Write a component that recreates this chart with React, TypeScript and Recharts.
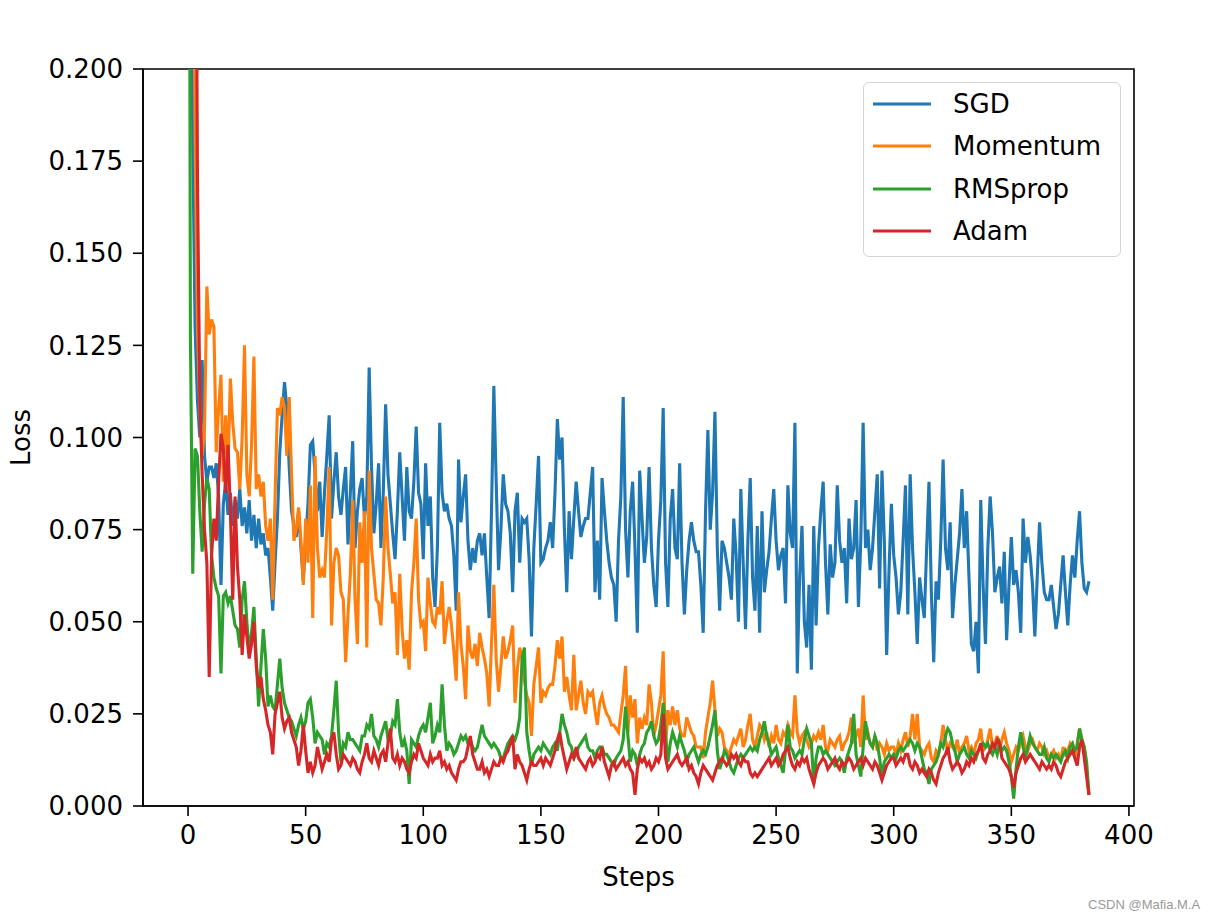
import { Label, Legend, Line, LineChart, ReferenceArea, XAxis, YAxis } from "recharts"

const seriesKeys = ["sgd", "momentum", "rmsprop", "adam"]
const seriesNames = ["SGD", "Momentum", "RMSprop", "Adam"]
const seriesColors = ["#1f77b4", "#ff7f0e", "#2ca02c", "#d62728"]

const xTicks = [0, 50, 100, 150, 200, 250, 300, 350, 400]
const yTicks = [0, 0.025, 0.05, 0.075, 0.1, 0.125, 0.15, 0.175, 0.2]

// loss per step, in units of 0.001 (steps 0..383)
const sgdLoss = [
  450, 280, 180, 130, 110, 100, 121, 95, 88, 92,
  92, 89, 93, 84, 60, 82, 88, 79, 85, 76,
  83, 78, 86, 76, 81, 74, 83, 72, 79, 70,
  78, 71, 74, 68, 70, 62, 53, 66, 78, 96,
  106, 115, 108, 92, 80, 76, 73, 80, 70, 61,
  72, 82, 98, 99, 90, 80, 88, 73, 85, 95,
  106, 78, 88, 96, 84, 79, 86, 92, 71, 85,
  99, 70, 80, 86, 89, 78, 84, 119, 92, 74,
  82, 93, 70, 85, 109, 90, 82, 74, 67, 80,
  96, 84, 72, 92, 80, 78, 88, 103, 85, 82,
  67, 93, 76, 84, 62, 54, 70, 104, 85, 80,
  82, 78, 76, 68, 53, 94, 77, 84, 90, 72,
  64, 70, 66, 72, 74, 68, 74, 62, 51, 80,
  114, 88, 64, 75, 90, 82, 80, 74, 58, 80,
  85, 66, 78, 77, 78, 67, 46, 70, 82, 95,
  66, 67, 70, 72, 77, 70, 85, 105, 94, 100,
  75, 58, 80, 67, 78, 88, 80, 73, 76, 78,
  78, 85, 92, 58, 72, 56, 89, 80, 72, 66,
  62, 60, 50, 72, 84, 111, 75, 62, 80, 88,
  70, 47, 91, 78, 66, 73, 92, 70, 60, 54,
  72, 83, 108, 66, 54, 78, 86, 70, 67, 93,
  66, 52, 64, 72, 77, 72, 69, 69, 60, 47,
  80, 102, 75, 85, 107, 70, 53, 72, 70, 66,
  62, 56, 78, 68, 50, 86, 66, 48, 72, 89,
  62, 53, 76, 47, 80, 58, 64, 69, 78, 86,
  72, 64, 68, 70, 55, 87, 74, 70, 104, 36,
  62, 76, 50, 43, 60, 37, 76, 49, 70, 80,
  88, 66, 52, 71, 62, 66, 87, 72, 66, 70,
  55, 78, 67, 70, 83, 54, 72, 104, 70, 75,
  64, 70, 80, 90, 59, 91, 72, 41, 64, 82,
  68, 62, 52, 58, 72, 87, 52, 90, 70, 58,
  44, 62, 56, 51, 70, 88, 58, 39, 61, 56,
  72, 94, 70, 64, 77, 51, 60, 67, 74, 86,
  70, 80, 62, 44, 42, 50, 36, 83, 60, 44,
  70, 84, 74, 58, 62, 65, 55, 69, 45, 60,
  73, 60, 64, 58, 47, 78, 66, 73, 68, 60,
  46, 62, 77, 66, 58, 56, 56, 60, 54, 48,
  52, 60, 68, 58, 49, 60, 68, 62, 72, 80,
  66, 59, 58, 61,
]

const momentumLoss = [
  900, 420, 260, 181, 130, 108, 95, 102, 141, 128,
  132, 130, 96, 108, 117, 88, 106, 92, 116, 104,
  97, 96, 86, 100, 125, 90, 84, 98, 122, 86,
  90, 84, 88, 76, 72, 78, 56, 84, 108, 106,
  111, 108, 95, 111, 90, 72, 75, 81, 72, 60,
  78, 66, 87, 51, 95, 70, 62, 64, 62, 75,
  92, 49, 66, 70, 68, 58, 56, 39, 52, 63,
  83, 56, 44, 77, 66, 80, 43, 91, 70, 63,
  56, 55, 49, 62, 84, 70, 63, 55, 58, 41,
  63, 48, 40, 45, 37, 58, 66, 78, 56, 49,
  50, 42, 62, 55, 50, 49, 54, 52, 61, 44,
  50, 54, 49, 42, 34, 58, 44, 38, 29, 49,
  42, 40, 44, 38, 47, 43, 40, 36, 27, 44,
  60, 40, 31, 38, 46, 40, 42, 45, 49, 28,
  37, 43, 40, 34, 30, 28, 19, 33, 38, 43,
  28, 31, 30, 32, 33, 33, 38, 45, 40, 46,
  31, 35, 30, 26, 41, 26, 30, 34, 28, 25,
  31, 30, 31, 26, 22, 28, 30, 27, 25, 24,
  22, 22, 21, 20, 25, 30, 38, 20, 30, 24,
  29, 17, 24, 21, 24, 22, 33, 28, 19, 22,
  26, 30, 42, 16, 26, 22, 27, 22, 26, 21,
  19, 19, 24, 22, 20, 19, 16, 16, 16, 13,
  20, 24, 28, 34, 26, 19, 21, 20, 16, 15,
  14, 16, 18, 17, 19, 21, 16, 18, 22, 25,
  18, 16, 19, 22, 21, 18, 20, 16, 19, 17,
  22, 18, 17, 20, 19, 22, 20, 19, 30, 20,
  17, 19, 20, 18, 16, 17, 19, 18, 20, 18,
  22, 16, 15, 18, 17, 16, 18, 19, 15, 17,
  18, 20, 24, 17, 19, 21, 16, 30, 18, 20,
  17, 16, 19, 15, 17, 16, 14, 17, 15, 16,
  16, 14, 17, 15, 18, 20, 16, 19, 25, 18,
  25, 16, 15, 14, 16, 17, 13, 12, 15, 14,
  17, 22, 18, 15, 17, 16, 15, 18, 14, 16,
  17, 19, 15, 16, 14, 17, 18, 21, 15, 16,
  18, 21, 16, 17, 19, 15, 18, 20, 17, 15,
  12, 14, 16, 15, 17, 19, 16, 15, 17, 18,
  16, 15, 17, 16, 14, 15, 13, 14, 15, 13,
  14, 12, 16, 14, 15, 17, 16, 13, 17, 21,
  18, 16, 10, 3,
]

const rmspropLoss = [
  450, 128, 63, 97, 95, 80, 69, 82, 89, 86,
  68, 62, 59, 57, 36, 57, 58, 55, 57, 53,
  49, 48, 43, 56, 61, 50, 42, 47, 54, 40,
  27, 38, 48, 40, 27, 30, 27, 26, 33, 40,
  32, 28, 26, 24, 23, 21, 19, 22, 24, 21,
  23, 28, 29, 24, 17, 20, 19, 18, 14, 17,
  16, 19, 26, 34, 20, 12, 17, 16, 20, 18,
  18, 17, 16, 15, 19, 19, 22, 21, 25, 19,
  18, 16, 19, 21, 23, 18, 19, 23, 22, 29,
  20, 16, 18, 15, 6, 18, 17, 16, 19, 21,
  22, 20, 24, 28, 17, 19, 22, 20, 33, 22,
  15, 17, 16, 14, 15, 17, 19, 18, 19, 17,
  18, 16, 15, 16, 19, 22, 19, 18, 17, 16,
  17, 16, 15, 13, 13, 15, 17, 18, 19, 18,
  20, 24, 40, 43, 20, 15, 11, 14, 15, 16,
  15, 17, 16, 15, 14, 16, 17, 15, 20, 25,
  22, 20, 17, 16, 13, 14, 16, 17, 18, 19,
  16, 15, 15, 13, 15, 16, 16, 14, 14, 13,
  12, 11, 13, 14, 15, 18, 27, 19, 12, 15,
  14, 11, 14, 16, 17, 20, 21, 23, 19, 17,
  18, 22, 28, 19, 12, 17, 20, 18, 16, 19,
  17, 15, 12, 14, 15, 16, 14, 12, 14, 15,
  14, 16, 19, 22, 26, 15, 10, 12, 15, 14,
  12, 10, 9, 11, 13, 14, 13, 14, 15, 16,
  15, 16, 15, 18, 20, 23, 19, 17, 14, 15,
  16, 13, 11, 9, 15, 22, 16, 15, 13, 14,
  15, 14, 18, 21, 19, 17, 6, 13, 16, 16,
  14, 15, 14, 13, 12, 11, 12, 13, 12, 9,
  13, 15, 17, 25, 14, 11, 8, 16, 23, 19,
  17, 16, 19, 17, 13, 8, 12, 13, 14, 13,
  14, 13, 15, 16, 15, 16, 17, 18, 17, 15,
  17, 16, 13, 10, 9, 6, 10, 11, 12, 14,
  17, 16, 19, 21, 20, 17, 15, 12, 14, 15,
  16, 14, 13, 15, 14, 13, 15, 16, 17, 16,
  17, 15, 14, 16, 14, 17, 15, 16, 15, 12,
  8, 2, 10, 16, 20, 16, 13, 16, 19, 17,
  16, 15, 14, 14, 16, 13, 12, 14, 13, 14,
  13, 12, 14, 15, 13, 16, 17, 15, 16, 21,
  18, 16, 12, 3,
]

const adamLoss = [
  1200, 800, 500, 300, 171, 110, 90, 75, 66, 35,
  68, 78, 72, 88, 101, 97, 85, 98, 80, 56,
  84, 65, 56, 41, 52, 46, 40, 44, 50, 38,
  32, 35, 29, 26, 22, 20, 14, 25, 28, 31,
  24, 21, 23, 24, 20, 18, 16, 11, 15, 22,
  15, 9, 12, 9, 11, 16, 13, 10, 12, 14,
  12, 18, 20, 14, 10, 11, 14, 13, 12, 11,
  13, 12, 10, 9, 12, 14, 17, 13, 12, 15,
  13, 11, 14, 15, 12, 17, 21, 13, 12, 14,
  11, 13, 12, 10, 9, 12, 14, 13, 17, 15,
  13, 12, 11, 14, 12, 13, 13, 15, 11, 12,
  10, 11, 9, 8, 7, 10, 12, 12, 13, 16,
  19, 14, 12, 10, 10, 12, 9, 10, 8, 10,
  12, 11, 11, 13, 12, 14, 15, 17, 19, 10,
  14, 12, 11, 9, 7, 10, 12, 11, 11, 12,
  13, 11, 13, 12, 11, 13, 15, 18, 20, 16,
  13, 10, 12, 14, 13, 16, 13, 12, 11, 10,
  12, 13, 11, 12, 14, 13, 16, 12, 10, 8,
  11, 12, 10, 11, 12, 13, 11, 12, 10, 9,
  3, 10, 13, 12, 13, 11, 12, 10, 11, 13,
  12, 14, 25, 13, 10, 11, 12, 13, 14, 12,
  11, 12, 13, 10, 11, 9, 8, 6, 9, 11,
  10, 9, 8, 7, 9, 11, 12, 13, 12, 11,
  12, 14, 13, 14, 12, 11, 13, 12, 12, 9,
  8, 9, 8, 9, 10, 11, 12, 13, 11, 12,
  13, 11, 12, 14, 15, 16, 13, 11, 10, 12,
  11, 13, 12, 13, 10, 8, 6, 9, 11, 12,
  13, 12, 10, 11, 12, 13, 11, 10, 12, 11,
  12, 13, 12, 10, 11, 12, 13, 11, 13, 12,
  11, 10, 12, 11, 9, 7, 9, 11, 12, 13,
  13, 11, 12, 13, 12, 14, 14, 11, 10, 12,
  11, 9, 10, 9, 8, 10, 9, 7, 6, 9,
  11, 13, 14, 16, 12, 10, 11, 12, 11, 9,
  10, 12, 11, 13, 12, 14, 15, 17, 13, 12,
  14, 15, 17, 16, 18, 17, 13, 12, 11, 10,
  8, 5, 9, 11, 13, 14, 12, 13, 14, 13,
  12, 11, 10, 12, 11, 10, 11, 10, 12, 11,
  9, 8, 10, 12, 13, 14, 15, 13, 11, 16,
  18, 13, 8, 3,
]

const seriesValues = [sgdLoss, momentumLoss, rmspropLoss, adamLoss]

const data = sgdLoss.map((_, i) => {
  const row: Record<string, number> = { step: i }
  seriesKeys.forEach((k, s) => {
    row[k] = seriesValues[s][i] / 1000
  })
  return row
})

const FONT = "'DejaVu Sans', sans-serif"
const X_MIN = -19.15
const X_MAX = 402.15

function LossLabel(props: any) {
  const vb = props.viewBox || {}
  const cy = (vb.y ?? 69) + (vb.height ?? 737) / 2
  const x = 30
  return (
    <text
      x={x}
      y={cy}
      transform={`rotate(-90 ${x} ${cy})`}
      textAnchor="middle"
      fontSize={26}
      fontFamily={FONT}
      fill="#000"
    >
      Loss
    </text>
  )
}

function LegendBox(props: any) {
  // keep plotting order (Recharts sorts legend items by name otherwise)
  const payload = [...(props.payload || [])].sort(
    (a: any, b: any) => seriesNames.indexOf(a.value) - seriesNames.indexOf(b.value)
  )
  return (
    <div
      style={{
        boxSizing: "border-box",
        width: 258,
        height: 175,
        border: "1.5px solid #d4d4d4",
        borderRadius: 6,
        background: "rgba(255,255,255,0.8)",
        fontFamily: FONT,
      }}
    >
      {payload.map((entry: any) => (
        <div key={entry.value} style={{ display: "flex", alignItems: "center", height: 42.3 }}>
          <svg width={67} height={8} style={{ display: "block" }}>
            <line x1={9} y1={4} x2={67} y2={4} stroke={entry.color} strokeWidth={3.2} />
          </svg>
          <span style={{ marginLeft: 22, fontSize: 26, color: "#000", lineHeight: 1 }}>{entry.value}</span>
        </div>
      ))}
    </div>
  )
}

export default function App() {
  return (
    <div style={{ position: "absolute", left: 0, top: 0, width: 1226, height: 922, background: "#fff" }}>
      <LineChart
        width={1226}
        height={922}
        data={data}
        margin={{ top: 69, right: 92, bottom: 36, left: 63 }}
      >
        <XAxis
          dataKey="step"
          type="number"
          domain={[X_MIN, X_MAX]}
          ticks={xTicks}
          allowDataOverflow
          height={80}
          tickSize={10}
          tickMargin={10}
          axisLine={{ stroke: "#000", strokeWidth: 1.6 }}
          tickLine={{ stroke: "#000", strokeWidth: 1.6 }}
          tick={{ fill: "#000", fontSize: 26, fontFamily: FONT }}
        >
          <Label
            value="Steps"
            position="insideBottom"
            offset={0}
            style={{ fill: "#000", fontSize: 26, fontFamily: FONT }}
          />
        </XAxis>
        <YAxis
          type="number"
          domain={[0, 0.2]}
          ticks={yTicks}
          allowDataOverflow
          width={80}
          tickSize={10}
          tickMargin={10}
          tickFormatter={(v: number) => v.toFixed(3)}
          axisLine={{ stroke: "#000", strokeWidth: 1.6 }}
          tickLine={{ stroke: "#000", strokeWidth: 1.6 }}
          tick={{ fill: "#000", fontSize: 26, fontFamily: FONT }}
        >
          <Label content={<LossLabel />} />
        </YAxis>
        {seriesKeys.map((k, s) => (
          <Line
            key={k}
            type="linear"
            dataKey={k}
            name={seriesNames[s]}
            stroke={seriesColors[s]}
            strokeWidth={3.1}
            dot={false}
            activeDot={false}
            isAnimationActive={false}
          />
        ))}
        <ReferenceArea
          x1={X_MIN}
          x2={X_MAX}
          y1={0}
          y2={0.2}
          fill="none"
          fillOpacity={0}
          stroke="#000"
          strokeWidth={1.6}
          strokeOpacity={1}
        />
        <Legend
          layout="vertical"
          align="center"
          verticalAlign="middle"
          wrapperStyle={{ top: 82, left: 863, width: 258 }}
          content={<LegendBox />}
        />
      </LineChart>
      <div
        style={{
          position: "absolute",
          left: 1088,
          top: 897,
          fontSize: 13,
          color: "#9a9a9a",
          fontFamily: "'Liberation Sans', Arial, sans-serif",
          whiteSpace: "nowrap",
        }}
      >
        CSDN @Mafia.M.A
      </div>
    </div>
  )
}
